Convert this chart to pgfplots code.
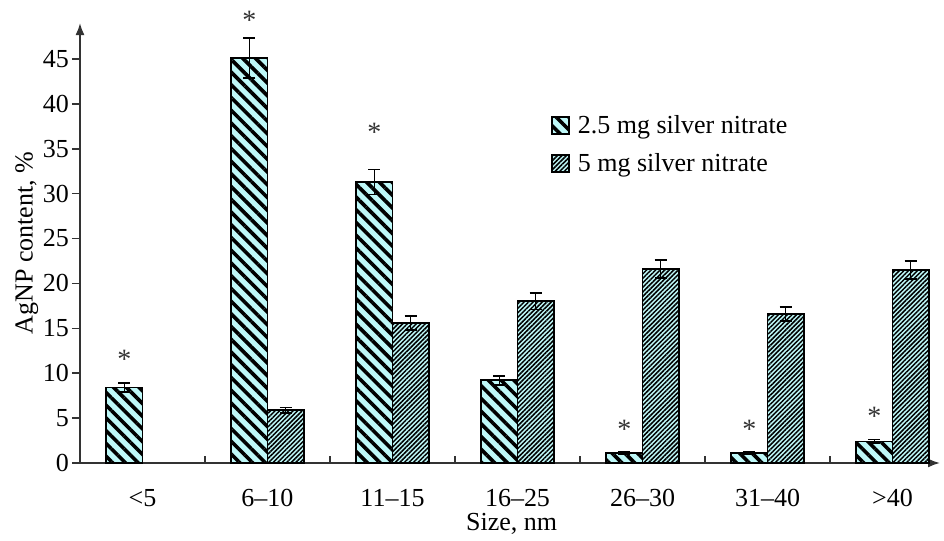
\documentclass[border=0pt]{standalone}
\usepackage{fontspec}
\setmainfont{Liberation Serif}
\usepackage{pgfplots}
\usepackage{pgfplotstable}
\pgfplotsset{compat=1.18}
\usetikzlibrary{patterns.meta,arrows.meta}
\definecolor{lcyan}{RGB}{190,248,248}
\pgfplotsset{sqlegend/.style={legend image code/.code={\draw[##1] (0pt,-4.25pt) rectangle (8.5pt,4.25pt);}}}
\pgfplotstableread{
x y e
0 8.4 0.5
1 45.1 2.2
2 31.3 1.4
3 9.2 0.5
4 1.1 0.1
5 1.1 0.1
6 2.4 0.2
}\tA
\pgfplotstableread{
x y e
1 5.9 0.3
2 15.6 0.8
3 18.0 0.9
4 21.6 1.0
5 16.6 0.8
6 21.5 1.0
}\tB
\pgfplotstableread{
x y
0 11.5
1 49.3
2 36.8
4 3.8
5 3.8
6 5.2
}\tS
\begin{document}
\begin{tikzpicture}
\useasboundingbox (-40pt,-39pt) rectangle (432pt,231.5pt);
\begin{axis}[
  at={(0,0)}, anchor=south west,
  scale only axis, width=430pt, height=220pt,
  xmin=-0.5, xmax=6.38, ymin=0, ymax=49,
  clip=false,
  axis lines=left,
  axis line style={line width=0.9pt, draw=black!80, -{Latex[length=6pt,width=4.5pt]}},
  tick style={line width=0.8pt, draw=black!80},
  tick align=outside,
  major tick length=4pt,
  ytick={0,5,...,45},
  xtick={0,...,6},
  xticklabels={<5,6–10,11–15,16–25,26–30,31–40,>40},
  major x tick style={draw=none},
  extra x ticks={0.5,1.5,2.5,3.5,4.5,5.5},
  extra x tick labels={},
  extra x tick style={tick align=inside, major tick length=3.5pt, major x tick style={draw=black!80}},
  tick label style={font=\fontsize{13}{15}\selectfont},
  xticklabel style={yshift=-5.5pt},
  yticklabel style={xshift=2pt},
  /pgf/number format/assume math mode=true,
  xlabel={Size, nm},
  ylabel={AgNP content, \%},
  label style={font=\fontsize{13}{15}\selectfont},
  xlabel style={at={(axis description cs:0.502,0)}, anchor=center, yshift=-30.5pt},
  ylabel style={at={(axis description cs:-0.062,0.5)}, anchor=center},
  legend style={draw=none, fill=none, at={(axis description cs:0.545,0.805)}, anchor=north west,
    font=\fontsize{13}{15}\selectfont, row sep=4.5pt, column sep=2pt, inner sep=1pt},
  legend cell align=left,
  error bars/error bar style={line width=0.8pt, black},
  error bars/error mark options={rotate=90, mark size=3pt, line width=0.8pt, black},
]
\addplot[ybar, bar width=0.29, bar shift=0pt, fill=lcyan, draw=black, line width=0.9pt,
  postaction={pattern={Lines[angle=-45,distance=4.5pt,line width=1.8pt]}, pattern color=black},
  sqlegend,
  error bars/.cd, y dir=both, y explicit]
  table[x expr=\thisrow{x}-0.145, y=y, y error=e] {\tA};
\addlegendentry{2.5 mg silver nitrate}
\addplot[ybar, bar width=0.29, bar shift=0pt, fill=lcyan, draw=black, line width=0.9pt,
  postaction={pattern={Lines[angle=45,distance=1.6pt,line width=0.75pt]}, pattern color=black},
  sqlegend,
  error bars/.cd, y dir=both, y explicit]
  table[x expr=\thisrow{x}+0.145, y=y, y error=e] {\tB};
\addlegendentry{5 mg silver nitrate}
\addplot[only marks, mark=none, forget plot,
  nodes near coords={*}, nodes near coords align={center},
  every node near coord/.append style={font=\fontsize{14}{16}\selectfont, inner sep=0pt, text=black!80}]
  table[x expr=\thisrow{x}-0.145, y=y] {\tS};
\end{axis}
\end{tikzpicture}
\end{document}
